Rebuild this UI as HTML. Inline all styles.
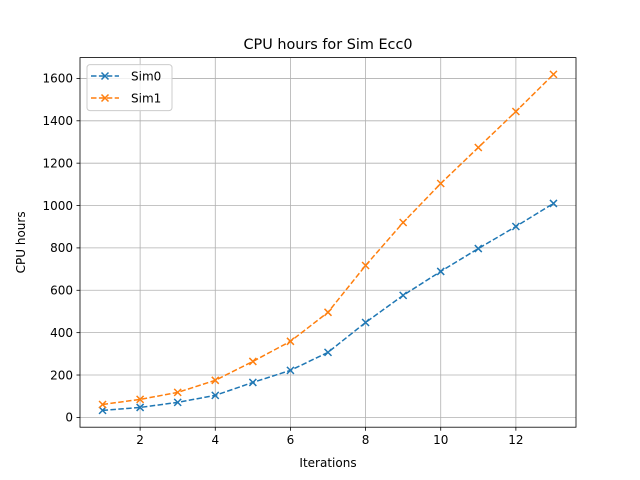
<!DOCTYPE html>
<html><head><meta charset="utf-8"><style>
html,body{margin:0;padding:0;background:#fff;}
svg{display:block;font-family:"DejaVu Sans","Liberation Sans",sans-serif;}
</style></head><body>
<svg id="chart" width="640" height="480" viewBox="0 0 640 480">
<rect width="640" height="480" fill="#fff"/>
<text x="328" y="49" text-anchor="middle" font-size="14.4">CPU hours for Sim Ecc0</text>
<g id="grid"></g>
<g id="ticks"></g>
<g id="series"></g>
<rect x="80" y="57.6" width="496" height="369.6" fill="none" stroke="#000" stroke-width="0.8"/>
<text x="328" y="467" text-anchor="middle" font-size="12">Iterations</text>
<text transform="translate(25,242.4) rotate(-90)" text-anchor="middle" font-size="12">CPU hours</text>
<g>
<rect x="87" y="64.6" width="85" height="46" rx="3" fill="#fff" fill-opacity="0.8" stroke="#ccc" stroke-width="1"/>
<g>
<line x1="91" y1="76" x2="119" y2="76" stroke="#1f77b4" stroke-width="1.5" stroke-dasharray="5.5,2.4"/>
<path d="M101.5,72.5 l7,7 M108.5,72.5 l-7,7" stroke="#1f77b4" stroke-width="1.5"/>
<text x="131" y="80.5" font-size="12">Sim0</text>
</g>
<g>
<line x1="91" y1="98" x2="119" y2="98" stroke="#ff7f0e" stroke-width="1.5" stroke-dasharray="5.5,2.4"/>
<path d="M101.5,94.5 l7,7 M108.5,94.5 l-7,7" stroke="#ff7f0e" stroke-width="1.5"/>
<text x="131" y="102.5" font-size="12">Sim1</text>
</g>
</g>
</svg>
<script>
const iterations=[1,2,3,4,5,6,7,8,9,10,11,12,13];
const sim0=[33,47,71,104,165,222,307,448,576,689,797,901,1010];
const sim1=[61,85,118,175,264,359,496,717,920,1104,1274,1444,1619];
const xTicks=[2,4,6,8,10,12];
const yTicks=[0,200,400,600,800,1000,1200,1400,1600];
const NS="http://www.w3.org/2000/svg";
const L=80,R=576,T=57.6,B=427.2;
const xmin=0.4,xmax=13.6,ymin=-46.3,ymax=1698.3;
const sx=v=>L+(v-xmin)/(xmax-xmin)*(R-L);
const sy=v=>B-(v-ymin)/(ymax-ymin)*(B-T);
function mk(tag,attrs,parent){const e=document.createElementNS(NS,tag);for(const k in attrs)e.setAttribute(k,attrs[k]);parent.appendChild(e);return e;}
const grid=document.getElementById('grid'),ticks=document.getElementById('ticks'),series=document.getElementById('series');
xTicks.forEach(t=>{const x=sx(t);
 const g=mk('line',{x1:x,x2:x,y1:T,y2:B,stroke:'#b0b0b0','stroke-width':0.8},grid);
 
 
 mk('line',{x1:x,x2:x,y1:B,y2:B+3.5,stroke:'#000','stroke-width':0.8},ticks);
 const tx=mk('text',{x:x,y:B+17,'text-anchor':'middle','font-size':12},ticks);tx.textContent=t;
 
 
});
yTicks.forEach(t=>{const y=sy(t);
 const g=mk('line',{x1:L,x2:R,y1:y,y2:y,stroke:'#b0b0b0','stroke-width':0.8},grid);
 
 
 mk('line',{x1:L-3.5,x2:L,y1:y,y2:y,stroke:'#000','stroke-width':0.8},ticks);
 const tx=mk('text',{x:L-7,y:y+4.3,'text-anchor':'end','font-size':12},ticks);tx.textContent=t;
 
 
});
function draw(vals,color,name){
 const g=mk('g',{},series);
 
 
 const pts=vals.map((v,i)=>sx(iterations[i])+','+sy(v)).join(' ');
 mk('polyline',{points:pts,fill:'none',stroke:color,'stroke-width':1.5,'stroke-dasharray':'5.5,2.4'},g);
 vals.forEach((v,i)=>{const x=sx(iterations[i]),y=sy(v);
  const m=mk('path',{d:`M${x-3.5},${y-3.5} l7,7 M${x+3.5},${y-3.5} l-7,7`,stroke:color,'stroke-width':1.5},g);
  
  
 });
}
draw(sim0,'#1f77b4','series-sim0');
draw(sim1,'#ff7f0e','series-sim1');
</script>
</body></html>
